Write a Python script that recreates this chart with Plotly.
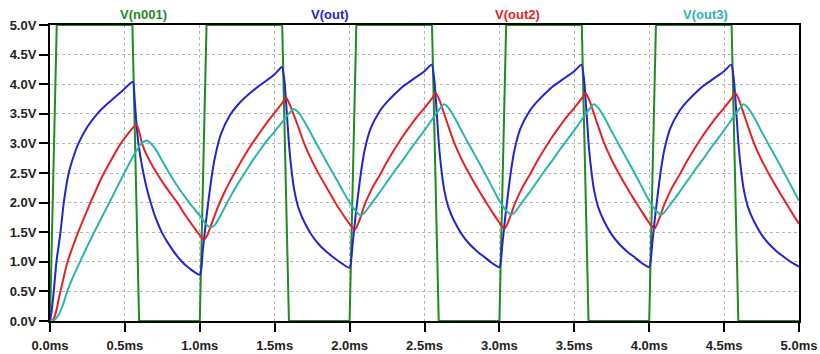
import plotly.graph_objects as go

# ---- data (time in ms, voltage in V) ----
src_t = [0.0, 0.045, 0.55, 0.595, 1.0, 1.045, 1.55, 1.595, 2.0, 2.045, 2.55, 2.595,
         3.0, 3.045, 3.55, 3.595, 4.0, 4.045, 4.55, 4.595, 5.0]
src_v = [0, 5, 5, 0, 0, 5, 5, 0, 0, 5, 5, 0, 0, 5, 5, 0, 0, 5, 5, 0, 0]

out_t = [0.0, 0.01, 0.025, 0.043, 0.07, 0.092, 0.125, 0.16, 0.19, 0.25, 0.315, 0.37, 0.42, 0.48, 0.553,
         0.565, 0.575, 0.59, 0.61, 0.63, 0.65, 0.67, 0.70, 0.75, 0.80, 0.87, 0.93, 1.00,
         1.02, 1.04, 1.06, 1.08, 1.10, 1.14, 1.20, 1.25, 1.30, 1.35, 1.40, 1.45, 1.50, 1.548,
         1.565, 1.58, 1.595, 1.61, 1.63, 1.66, 1.70, 1.75, 1.80, 1.85, 1.90, 1.95, 2.00,
         2.02, 2.04, 2.06, 2.08, 2.10, 2.14, 2.20, 2.25, 2.30, 2.35, 2.40, 2.45, 2.50, 2.548,
         2.565, 2.58, 2.595, 2.61, 2.63, 2.66, 2.70, 2.75, 2.80, 2.85, 2.90, 2.95, 3.00,
         3.02, 3.04, 3.06, 3.08, 3.10, 3.14, 3.20, 3.25, 3.30, 3.35, 3.40, 3.45, 3.50, 3.548,
         3.565, 3.58, 3.595, 3.61, 3.63, 3.66, 3.70, 3.75, 3.80, 3.85, 3.90, 3.95, 4.00,
         4.02, 4.04, 4.06, 4.08, 4.10, 4.14, 4.20, 4.25, 4.30, 4.35, 4.40, 4.45, 4.50, 4.548,
         4.565, 4.58, 4.595, 4.61, 4.63, 4.66, 4.70, 4.75, 4.80, 4.85, 4.90, 4.95, 5.00]
out_v = [0.00, 0.15, 0.50, 1.00, 1.50, 2.00, 2.50, 2.80, 3.00, 3.28, 3.50, 3.64, 3.75, 3.88, 4.04,
         3.75, 3.40, 3.00, 2.68, 2.42, 2.20, 2.02, 1.78, 1.48, 1.27, 1.03, 0.89, 0.78,
         1.20, 1.65, 2.08, 2.45, 2.75, 3.15, 3.47, 3.64, 3.77, 3.88, 3.98, 4.07, 4.17, 4.29,
         4.05, 3.55, 3.00, 2.60, 2.22, 1.90, 1.66, 1.44, 1.28, 1.16, 1.06, 0.97, 0.90,
         1.30, 1.78, 2.20, 2.58, 2.88, 3.25, 3.54, 3.70, 3.83, 3.95, 4.04, 4.13, 4.22, 4.33,
         4.08, 3.58, 3.02, 2.62, 2.24, 1.92, 1.68, 1.46, 1.30, 1.18, 1.08, 0.98, 0.91,
         1.30, 1.78, 2.20, 2.58, 2.88, 3.25, 3.54, 3.70, 3.83, 3.95, 4.04, 4.13, 4.22, 4.33,
         4.08, 3.58, 3.02, 2.62, 2.24, 1.92, 1.68, 1.46, 1.30, 1.18, 1.08, 0.98, 0.91,
         1.30, 1.78, 2.20, 2.58, 2.88, 3.25, 3.54, 3.70, 3.83, 3.95, 4.04, 4.13, 4.22, 4.33,
         4.08, 3.58, 3.02, 2.62, 2.24, 1.92, 1.68, 1.46, 1.30, 1.18, 1.08, 0.99, 0.92]

out2_t = [0.0, 0.02, 0.04, 0.065, 0.09, 0.115, 0.17, 0.22, 0.27, 0.35, 0.40, 0.46, 0.52, 0.577,
          0.60, 0.614, 0.65, 0.70, 0.75, 0.80, 0.85, 0.90, 0.95, 1.00, 1.025,
          1.05, 1.08, 1.12, 1.16, 1.20, 1.25, 1.30, 1.35, 1.40, 1.45, 1.50, 1.55, 1.577,
          1.60, 1.65, 1.70, 1.75, 1.80, 1.85, 1.90, 1.95, 2.00, 2.035,
          2.06, 2.10, 2.15, 2.20, 2.25, 2.30, 2.35, 2.40, 2.45, 2.50, 2.55, 2.575,
          2.60, 2.65, 2.70, 2.75, 2.80, 2.85, 2.90, 2.95, 3.00, 3.035,
          3.06, 3.10, 3.15, 3.20, 3.25, 3.30, 3.35, 3.40, 3.45, 3.50, 3.55, 3.575,
          3.60, 3.65, 3.70, 3.75, 3.80, 3.85, 3.90, 3.95, 4.00, 4.035,
          4.06, 4.10, 4.15, 4.20, 4.25, 4.30, 4.35, 4.40, 4.45, 4.50, 4.55, 4.575,
          4.60, 4.65, 4.70, 4.75, 4.80, 4.85, 4.90, 4.95, 5.00]
out2_v = [0.00, 0.02, 0.15, 0.45, 0.72, 0.98, 1.38, 1.70, 2.00, 2.45, 2.68, 2.95, 3.16, 3.32,
          3.15, 3.00, 2.78, 2.55, 2.35, 2.17, 2.00, 1.80, 1.62, 1.45, 1.37,
          1.45, 1.65, 1.92, 2.15, 2.35, 2.58, 2.80, 3.00, 3.18, 3.36, 3.52, 3.68, 3.77,
          3.66, 3.33, 2.98, 2.70, 2.46, 2.24, 2.02, 1.82, 1.64, 1.54,
          1.66, 1.96, 2.24, 2.46, 2.69, 2.90, 3.10, 3.28, 3.45, 3.60, 3.76, 3.85,
          3.73, 3.36, 3.00, 2.72, 2.48, 2.26, 2.05, 1.85, 1.66, 1.56,
          1.68, 1.96, 2.24, 2.46, 2.69, 2.90, 3.10, 3.28, 3.45, 3.60, 3.76, 3.85,
          3.73, 3.36, 3.00, 2.72, 2.48, 2.26, 2.05, 1.85, 1.66, 1.56,
          1.68, 1.96, 2.24, 2.46, 2.69, 2.90, 3.10, 3.28, 3.45, 3.60, 3.76, 3.85,
          3.73, 3.36, 3.00, 2.72, 2.48, 2.26, 2.05, 1.84, 1.64]

out3_t = [0.0, 0.03, 0.06, 0.09, 0.115, 0.16, 0.20, 0.26, 0.315, 0.40, 0.49, 0.57, 0.61, 0.648,
          0.70, 0.75, 0.80, 0.85, 0.90, 0.95, 1.00, 1.04, 1.07,
          1.10, 1.15, 1.20, 1.25, 1.30, 1.35, 1.40, 1.45, 1.50, 1.55, 1.60, 1.626,
          1.66, 1.70, 1.75, 1.80, 1.85, 1.90, 1.95, 2.00, 2.04, 2.075,
          2.10, 2.15, 2.20, 2.25, 2.30, 2.35, 2.40, 2.45, 2.50, 2.55, 2.60, 2.63,
          2.66, 2.70, 2.75, 2.80, 2.85, 2.90, 2.95, 3.00, 3.04, 3.08,
          3.10, 3.15, 3.20, 3.25, 3.30, 3.35, 3.40, 3.45, 3.50, 3.55, 3.60, 3.63,
          3.66, 3.70, 3.75, 3.80, 3.85, 3.90, 3.95, 4.00, 4.04, 4.08,
          4.10, 4.15, 4.20, 4.25, 4.30, 4.35, 4.40, 4.45, 4.50, 4.55, 4.60, 4.63,
          4.66, 4.70, 4.75, 4.80, 4.85, 4.90, 4.95, 5.00]
out3_v = [0.00, 0.02, 0.12, 0.30, 0.50, 0.78, 1.00, 1.32, 1.60, 2.02, 2.47, 2.85, 3.00, 3.05,
          2.92, 2.70, 2.48, 2.28, 2.10, 1.93, 1.78, 1.64, 1.58,
          1.62, 1.84, 2.08, 2.30, 2.50, 2.70, 2.88, 3.05, 3.20, 3.36, 3.52, 3.58,
          3.52, 3.36, 3.13, 2.90, 2.67, 2.45, 2.22, 2.00, 1.86, 1.78,
          1.83, 2.00, 2.17, 2.35, 2.53, 2.70, 2.88, 3.05, 3.22, 3.40, 3.58, 3.66,
          3.60, 3.44, 3.20, 2.97, 2.74, 2.51, 2.27, 2.03, 1.88, 1.80,
          1.83, 2.00, 2.17, 2.35, 2.53, 2.70, 2.88, 3.05, 3.22, 3.40, 3.58, 3.66,
          3.60, 3.44, 3.20, 2.97, 2.74, 2.51, 2.27, 2.03, 1.88, 1.80,
          1.83, 2.00, 2.17, 2.35, 2.53, 2.70, 2.88, 3.05, 3.22, 3.40, 3.58, 3.66,
          3.60, 3.44, 3.20, 2.97, 2.74, 2.51, 2.27, 2.03]

x_ticks = [0.0, 0.5, 1.0, 1.5, 2.0, 2.5, 3.0, 3.5, 4.0, 4.5, 5.0]
x_labels = ["0.0ms", "0.5ms", "1.0ms", "1.5ms", "2.0ms", "2.5ms", "3.0ms", "3.5ms", "4.0ms", "4.5ms", "5.0ms"]
y_ticks = [0.0, 0.5, 1.0, 1.5, 2.0, 2.5, 3.0, 3.5, 4.0, 4.5, 5.0]
y_labels = ["0.0V", "0.5V", "1.0V", "1.5V", "2.0V", "2.5V", "3.0V", "3.5V", "4.0V", "4.5V", "5.0V"]

names = ["V(n001)", "V(out)", "V(out2)", "V(out3)"]
colors = ["#1f8c1f", "#2323d2", "#e52222", "#2ab4ac"]

FONT = "Liberation Sans, Arial, sans-serif"

fig = go.Figure()
fig.add_trace(go.Scatter(x=src_t, y=src_v, mode="lines", name=names[0],
                         line=dict(color=colors[0], width=2)))
for tx, vy, nm, col in [(out_t, out_v, names[1], colors[1]),
                        (out2_t, out2_v, names[2], colors[2]),
                        (out3_t, out3_v, names[3], colors[3])]:
    fig.add_trace(go.Scatter(x=tx, y=vy, mode="lines", name=nm,
                             line=dict(color=col, width=2, shape="spline", smoothing=0.6)))

label_x = [0.623, 1.87, 3.12, 4.376]
for nm, col, lx in zip(names, colors, label_x):
    fig.add_annotation(x=lx, xref="x", y=1, yref="paper", yanchor="middle", yshift=11,
                       text=nm, showarrow=False,
                       font=dict(color=col, size=13, family=FONT, weight="bold"))

axis_common = dict(
    range=[0, 5], showgrid=True, gridcolor="#b4b4b4", griddash="dot", gridwidth=1,
    zeroline=False, showline=True, linecolor="black", linewidth=2, mirror=True,
    ticks="outside", ticklen=9, tickwidth=2, tickcolor="black", layer="below traces",
    automargin=False,
    tickfont=dict(family=FONT, size=13, color="#1e1e1e", weight="bold"),
)
fig.update_xaxes(tickvals=x_ticks, ticktext=x_labels, ticklabelstandoff=2, **axis_common)
fig.update_yaxes(tickvals=y_ticks, ticktext=y_labels, ticklabelstandoff=0, **axis_common)

fig.update_layout(
    width=820, height=354,
    margin=dict(l=50, r=21, t=25, b=33),
    paper_bgcolor="white", plot_bgcolor="white",
    showlegend=False,
)

fig.write_html("out.html")
